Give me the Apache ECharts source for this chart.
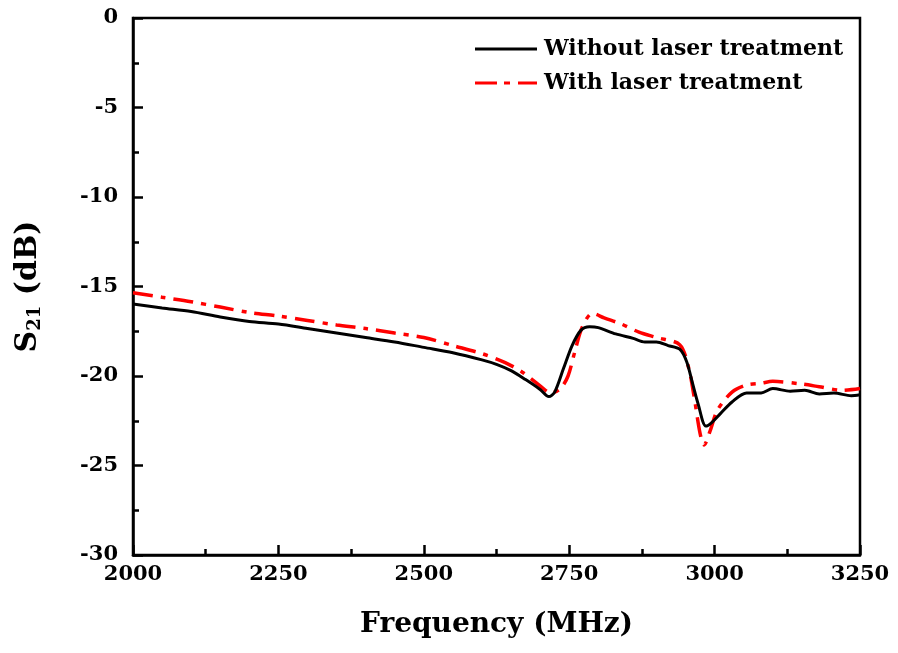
<!DOCTYPE html>
<html><head><meta charset="utf-8">
<script src="https://cdn.jsdelivr.net/npm/echarts@6/dist/echarts.min.js"></script>
<style>html,body{margin:0;padding:0;background:#fff}#c{width:898px;height:653px}</style>
</head><body><div id="c"></div>
<script>
const seriesNames = ['Without laser treatment', 'With laser treatment'];
const freqWithout = [2000,2050,2100,2150,2200,2250,2300,2350,2400,2450,2500,2550,2600,2625,2650,2675,2700,2715,2725,2740,2755,2770,2785,2800,2830,2860,2880,2900,2920,2940,2952,2962,2972,2985,2995,3010,3030,3055,3080,3100,3130,3155,3180,3205,3235,3250];
const s21Without = [-15.98,-16.2,-16.4,-16.7,-16.95,-17.1,-17.35,-17.6,-17.85,-18.1,-18.4,-18.7,-19.1,-19.35,-19.7,-20.2,-20.75,-21.15,-20.9,-19.6,-18.3,-17.45,-17.25,-17.3,-17.65,-17.9,-18.1,-18.1,-18.3,-18.5,-19.2,-20.4,-21.6,-22.8,-22.6,-22.1,-21.45,-20.95,-20.95,-20.7,-20.85,-20.8,-21.0,-20.95,-21.1,-21.05];
const freqWith = [2000,2050,2100,2150,2200,2250,2300,2350,2400,2450,2500,2550,2600,2640,2670,2700,2718,2735,2748,2760,2772,2790,2810,2840,2870,2900,2940,2955,2965,2975,2982,2992,3005,3030,3055,3080,3100,3150,3180,3220,3250];
const s21With = [-15.35,-15.6,-15.85,-16.15,-16.45,-16.65,-16.9,-17.15,-17.35,-17.6,-17.85,-18.3,-18.75,-19.25,-19.8,-20.55,-20.95,-20.7,-20.0,-18.6,-17.3,-16.5,-16.75,-17.1,-17.55,-17.85,-18.25,-19.5,-21.2,-23.2,-23.85,-23.1,-21.9,-20.9,-20.5,-20.4,-20.3,-20.45,-20.6,-20.8,-20.7];

const FONT = '"DejaVu Serif", "Liberation Serif", serif';
const pair = (xs, ys) => xs.map((x, i) => [x, ys[i]]);
const chart = echarts.init(document.getElementById('c'));
chart.setOption({
  animation: false,
  backgroundColor: '#fff',
  grid: { left: 133, right: 38, top: 18, bottom: 98, show: true, borderColor: '#000', borderWidth: 2.5, backgroundColor: 'transparent' },
  legend: {
    left: 470, top: 33, orient: 'vertical', itemWidth: 62, itemHeight: 3, itemGap: 12,
    data: [
      { name: seriesNames[0], icon: 'rect', itemStyle: { color: '#000' } },
      { name: seriesNames[1], icon: 'path://M0 0H22V3H0Z M29 0H35V3H29Z M43 0H62V3H43Z', itemStyle: { color: '#ff0000' } }
    ],
    textStyle: { fontFamily: FONT, fontWeight: 'bold', fontSize: 22, color: '#000', padding: [0, 0, 0, 2] }
  },
  xAxis: {
    type: 'value', min: 2000, max: 3250, interval: 250,
    name: 'Frequency (MHz)', nameLocation: 'middle', nameGap: 56,
    nameTextStyle: { fontFamily: FONT, fontWeight: 'bold', fontSize: 28, color: '#000' },
    axisLine: { onZero: false, lineStyle: { color: '#000', width: 2.5 } },
    axisTick: { inside: true, length: 10, lineStyle: { width: 2.5, color: '#000' } },
    minorTick: { show: true, splitNumber: 2, length: 6, lineStyle: { width: 2.5, color: '#000' } },
    splitLine: { show: false },
    axisLabel: { fontFamily: FONT, fontWeight: 'bold', fontSize: 21, color: '#000', margin: 9, formatter: v => String(v) }
  },
  yAxis: {
    type: 'value', min: -30, max: 0, interval: 5,
    name: '{s|S}{sub|21}{s| (dB)}', nameLocation: 'middle', nameGap: 89, nameRotate: 90,
    nameTextStyle: {
      fontFamily: FONT, fontWeight: 'bold', fontSize: 30, color: '#000',
      rich: {
        s: { fontFamily: FONT, fontWeight: 'bold', fontSize: 30, color: '#000' },
        sub: { fontFamily: FONT, fontWeight: 'bold', fontSize: 18, color: '#000', verticalAlign: 'bottom', padding: [14, 0, 0, 0] }
      }
    },
    axisLine: { onZero: false, lineStyle: { color: '#000', width: 2.5 } },
    axisTick: { inside: true, length: 10, lineStyle: { width: 2.5, color: '#000' } },
    minorTick: { show: true, splitNumber: 2, length: 6, lineStyle: { width: 2.5, color: '#000' } },
    splitLine: { show: false },
    axisLabel: { fontFamily: FONT, fontWeight: 'bold', fontSize: 21, color: '#000', margin: 15 }
  },
  series: [
    { name: seriesNames[0], type: 'line', smooth: 0.3, symbol: 'none', data: pair(freqWithout, s21Without),
      lineStyle: { color: '#000', width: 3 }, itemStyle: { color: '#000' }, z: 3 },
    { name: seriesNames[1], type: 'line', smooth: 0.3, symbol: 'none', data: pair(freqWith, s21With),
      lineStyle: { color: '#ff0000', width: 3.5, type: [20, 8, 5, 8] }, itemStyle: { color: '#ff0000' }, z: 2 }
  ]
});
</script></body></html>
